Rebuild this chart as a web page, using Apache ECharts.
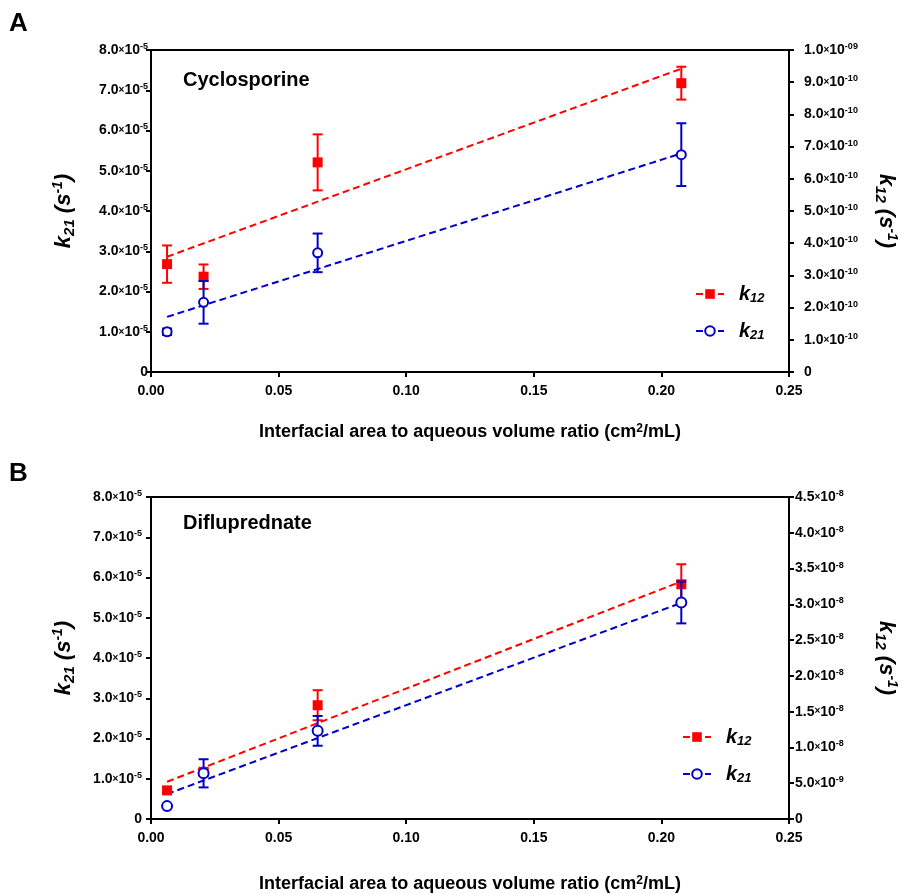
<!DOCTYPE html>
<html>
<head>
<meta charset="utf-8">
<script src="https://cdn.jsdelivr.net/npm/echarts@6/dist/echarts.min.js"></script>
<style>
  html, body { margin: 0; padding: 0; background: #fff; }
  #chart { width: 907px; height: 894px; }
</style>
</head>
<body>
<div id="chart"></div>
<script>
// interfacial area / aqueous volume (cm2/mL)
const ratio = [0.0063, 0.0206, 0.0653, 0.2078];

// A - Cyclosporine: k21 in 1e-5 s-1 (left axis), k12 in 1e-10 s-1 (right axis)
const cycK12 = [3.35, 2.96, 6.51, 8.97];
const cycK12Err = [0.58, 0.38, 0.87, 0.51];
const cycK21 = [1.00, 1.73, 2.96, 5.40];
const cycK21Err = [0.08, 0.53, 0.48, 0.78];
const cycK12Fit = [3.58, 9.42];   // dashed fit at first / last ratio
const cycK21Fit = [1.37, 5.43];

// B - Difluprednate: k21 in 1e-5 s-1 (left), k12 in 1e-8 s-1 (right)
const difK12 = [0.40, 0.66, 1.59, 3.28];
const difK12Err = [0.04, 0.04, 0.21, 0.28];
const difK21 = [0.32, 1.135, 2.19, 5.38];
const difK21Err = [0.04, 0.35, 0.37, 0.52];
const difK12Fit = [0.52, 3.32];
const difK21Fit = [0.62, 5.37];

// tick labels
const ratioTicks = ['0.00', '0.05', '0.10', '0.15', '0.20', '0.25'];
const k21Ticks = ['0', '1.0×10^-5', '2.0×10^-5', '3.0×10^-5', '4.0×10^-5',
  '5.0×10^-5', '6.0×10^-5', '7.0×10^-5', '8.0×10^-5'];
const cycK12Ticks = ['0', '1.0×10^-10', '2.0×10^-10', '3.0×10^-10', '4.0×10^-10',
  '5.0×10^-10', '6.0×10^-10', '7.0×10^-10', '8.0×10^-10', '9.0×10^-10', '1.0×10^-09'];
const difK12Ticks = ['0', '5.0×10^-9', '1.0×10^-8', '1.5×10^-8', '2.0×10^-8',
  '2.5×10^-8', '3.0×10^-8', '3.5×10^-8', '4.0×10^-8', '4.5×10^-8'];

const FONT = '"Liberation Sans", Arial, sans-serif';
const RED = '#ff0000';
const BLUE = '#0000c8';

const sciRich = {
  m: { fontFamily: FONT, fontSize: 14, fontWeight: 'bold', color: '#000', lineHeight: 16 },
  x: { fontFamily: FONT, fontSize: 10, fontWeight: 'bold', color: '#000', lineHeight: 16 },
  e: { fontFamily: FONT, fontSize: 9, fontWeight: 'bold', color: '#000', lineHeight: 9, verticalAlign: 'top' }
};

// '2.0×10^-5' -> rich text
function sci(s) {
  if (s.indexOf('^') < 0) return '{m|' + s + '}';
  const parts = s.split('×10^');
  return '{m|' + parts[0] + '}{x|×}{m|10}{e|' + parts[1] + '}';
}

const kRich = {
  k: { fontFamily: FONT, fontSize: 22, fontWeight: 'bold', fontStyle: 'italic', color: '#000', lineHeight: 26 },
  sub: { fontFamily: FONT, fontSize: 15, fontWeight: 'bold', fontStyle: 'italic', color: '#000', lineHeight: 14, verticalAlign: 'bottom' },
  sup: { fontFamily: FONT, fontSize: 14, fontWeight: 'bold', fontStyle: 'italic', color: '#000', lineHeight: 12, verticalAlign: 'top' }
};

function xAxis(grid, gap) {
  return {
    type: 'value', gridIndex: grid, min: 0, max: 0.25, interval: 0.05,
    axisLine: { lineStyle: { color: '#000', width: 2 } },
    axisTick: { length: 5, lineStyle: { color: '#000', width: 2 } },
    splitLine: { show: false },
    axisLabel: {
      margin: 12, color: '#000', fontFamily: FONT, fontSize: 14, fontWeight: 'bold',
      formatter: v => ratioTicks[Math.round(v / 0.05)]
    },
    name: 'Interfacial area to aqueous volume ratio (cm{sup|2}/mL)',
    nameLocation: 'middle', nameGap: gap,
    nameTextStyle: {
      fontFamily: FONT, fontSize: 18, fontWeight: 'bold', color: '#000',
      rich: { sup: { fontFamily: FONT, fontSize: 12, fontWeight: 'bold', color: '#000', verticalAlign: 'top', lineHeight: 10 } }
    }
  };
}

function yAxis(grid, pos, max, step, ticks, margin, name, gap) {
  return {
    type: 'value', gridIndex: grid, position: pos, min: 0, max: max, interval: step,
    axisLine: { show: true, lineStyle: { color: '#000', width: 2 } },
    axisTick: { show: true, length: 5, lineStyle: { color: '#000', width: 2 } },
    splitLine: { show: false },
    axisLabel: { margin: margin, formatter: v => sci(ticks[Math.round(v / step)]), rich: sciRich },
    name: name, nameLocation: 'middle', nameGap: gap,
    nameRotate: pos === 'right' ? -90 : 90,
    nameTextStyle: { rich: kRich }
  };
}

function fitLine(name, xi, yi, fit, color, symbol) {
  return {
    name: name, type: 'line', xAxisIndex: xi, yAxisIndex: yi, z: 2,
    data: [[ratio[0], fit[0]], [ratio[ratio.length - 1], fit[1]]],
    symbol: symbol, showSymbol: false, silent: true,
    itemStyle: { color: color },
    lineStyle: { color: color, width: 2, type: [7, 4] }
  };
}

function errorBars(xi, yi, ys, errs, color, z) {
  return {
    name: 'err', type: 'custom', xAxisIndex: xi, yAxisIndex: yi, z: z, silent: true,
    data: ratio.map((x, i) => [x, ys[i] - errs[i], ys[i] + errs[i]]),
    encode: { x: 0, y: [1, 2] },
    renderItem: (params, api) => {
      const lo = api.coord([api.value(0), api.value(1)]);
      const hi = api.coord([api.value(0), api.value(2)]);
      const w = 5;
      const st = { stroke: color, lineWidth: 2 };
      return {
        type: 'group', children: [
          { type: 'line', shape: { x1: lo[0], y1: lo[1], x2: hi[0], y2: hi[1] }, style: st },
          { type: 'line', shape: { x1: hi[0] - w, y1: hi[1], x2: hi[0] + w, y2: hi[1] }, style: st },
          { type: 'line', shape: { x1: lo[0] - w, y1: lo[1], x2: lo[0] + w, y2: lo[1] }, style: st }
        ]
      };
    }
  };
}

function points(xi, yi, ys, color, symbol, size, z) {
  return {
    name: 'pts', type: 'scatter', xAxisIndex: xi, yAxisIndex: yi, z: z, silent: true,
    data: ratio.map((x, i) => [x, ys[i]]),
    symbol: symbol, symbolSize: size,
    itemStyle: { color: color, borderWidth: symbol === 'emptyCircle' ? 2 : 0, opacity: 1 }
  };
}

function legend(left, top) {
  return {
    orient: 'vertical', left: left, top: top, itemWidth: 28, itemHeight: 12, itemGap: 16,
    selectedMode: false, data: ['k12', 'k21'],
    formatter: n => '{k|k}{s|' + n.slice(1) + '}',
    textStyle: {
      rich: {
        k: { fontFamily: FONT, fontSize: 20, fontWeight: 'bold', fontStyle: 'italic', color: '#000', lineHeight: 22, padding: [0, 0, 0, 10] },
        s: { fontFamily: FONT, fontSize: 13, fontWeight: 'bold', fontStyle: 'italic', color: '#000', lineHeight: 12, verticalAlign: 'bottom' }
      }
    }
  };
}

const label = (text, left, top, size) => ({
  text: text, left: left, top: top, padding: 0,
  textStyle: { fontFamily: FONT, fontSize: size, fontWeight: 'bold', color: '#000' }
});

const kName = (a) => '{k|k}{sub|' + a + '}{k| (s}{sup|-1}{k|)}';

const chart = echarts.init(document.getElementById('chart'));
chart.setOption({
  animation: false,
  backgroundColor: '#fff',
  title: [
    label('A', 9, 11, 26),
    label('Cyclosporine', 183, 70, 20),
    label('B', 9, 461, 26),
    label('Difluprednate', 183, 513, 20)
  ],
  grid: [
    { left: 151, top: 50, width: 643, height: 322, show: true, borderColor: '#000', borderWidth: 2 },
    { left: 151, top: 497, width: 643, height: 322, show: true, borderColor: '#000', borderWidth: 2 }
  ],
  xAxis: [xAxis(0, 51), xAxis(1, 56)],
  yAxis: [
    yAxis(0, 'left', 8, 1, k21Ticks, 3, kName('21'), 74),
    yAxis(0, 'right', 10, 1, cycK12Ticks, 15, kName('12'), 84),
    yAxis(1, 'left', 8, 1, k21Ticks, 9, kName('21'), 74),
    yAxis(1, 'right', 4.5, 0.5, difK12Ticks, 6, kName('12'), 84)
  ],
  legend: [legend(690, 279), legend(677, 722)],
  series: [
    fitLine('k12', 0, 1, cycK12Fit, RED, 'rect'),
    fitLine('k21', 0, 0, cycK21Fit, BLUE, 'emptyCircle'),
    errorBars(0, 1, cycK12, cycK12Err, RED, 3),
    points(0, 1, cycK12, RED, 'rect', 10, 4),
    errorBars(0, 0, cycK21, cycK21Err, BLUE, 5),
    points(0, 0, cycK21, BLUE, 'emptyCircle', 9, 6),

    fitLine('k12', 1, 3, difK12Fit, RED, 'rect'),
    fitLine('k21', 1, 2, difK21Fit, BLUE, 'emptyCircle'),
    errorBars(1, 3, difK12, difK12Err, RED, 3),
    points(1, 3, difK12, RED, 'rect', 10, 4),
    errorBars(1, 2, difK21, difK21Err, BLUE, 5),
    points(1, 2, difK21, BLUE, 'emptyCircle', 10, 6)
  ]
});
</script>
</body>
</html>
